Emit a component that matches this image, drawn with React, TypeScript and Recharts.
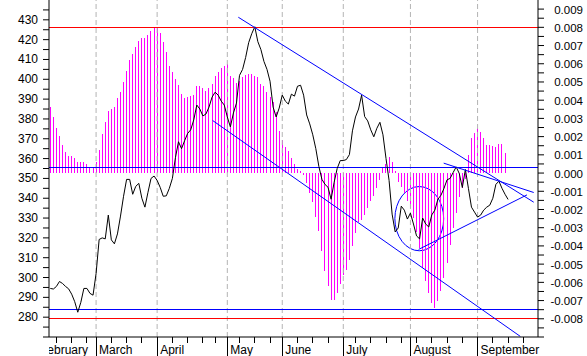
import React from "react";
import {
  ComposedChart,
  Bar,
  Line,
  XAxis,
  YAxis,
  ReferenceLine,
  ReferenceArea,
} from "recharts";

// daily close, one value per trading day (left axis)
const price = [
  294.5, 294.2, 295.5, 298, 297, 295.5, 294.3, 291.6, 287.8, 282.5, 287.5, 294.5, 294.5, 292, 291.1,
  302, 319.2, 320, 319.5, 331.5, 319, 317, 322, 331, 341, 349.5, 349.5, 342, 346, 347.5,
  340, 335.5, 343, 350, 351.2, 349, 345.5, 341, 341.2, 345, 350, 360.5, 368.5, 365, 369,
  372.7, 374.5, 379.5, 387, 385, 381.5, 382.5, 386, 391, 393.5, 392, 389, 387, 381, 376,
  383, 388, 402, 405, 411, 418.5, 423, 426.5, 419, 415, 409, 405, 399, 386, 381,
  385.5, 392, 389, 387.5, 392.5, 391.5, 396.5, 397, 392, 382, 377.5, 372, 365, 356, 349.5,
  347, 345.5, 339.5, 348, 355, 359, 359, 359.5, 362, 374, 381, 385, 392, 381.2, 379,
  374.5, 371, 375.3, 378.3, 372, 360, 349, 332, 323, 325, 336, 334, 329.5, 332.5, 327,
  321, 319.5, 330, 327, 325.5, 331.6, 334, 339.5, 341.5, 345, 349.3, 350, 353, 355.8, 352.5,
  345.4, 354.5, 345, 335.5, 333, 330.5, 331.5, 334, 335.5, 336.5, 340, 347, 348.6, 345, 342, 339.4,
];

// oscillator histogram, in thousandths (right axis)
const osc = [
  3.65, 3.1, 2.5, 2.06, 1.55, 1.13, 0.91, 0.91, 0.85, 0.63, 0.63, 0.58, 0.52, 0.3, 0.3,
  0.63, 1.27, 2.17, 2.83, 3.43, 3.52, 3.61, 4.11, 4.45, 5.02, 5.61, 6.21, 6.52, 6.91, 7.27,
  7.4, 7.43, 7.58, 7.82, 7.95, 7.98, 7.67, 7.21, 6.66, 5.88, 5.57, 5.17, 4.84, 4.34, 4.14,
  4.2, 4.23, 4.29, 4.78, 4.8, 4.69, 4.51, 4.66, 4.9, 5.33, 5.57, 5.75, 5.9, 5.97, 5.31,
  5.2, 4.97, 5.08, 5.29, 5.39, 5.44, 5.42, 5.35, 5.26, 4.89, 4.8, 4.47, 4.2, 3.89, 3.37,
  2.33, 1.82, 1.45, 1.22, 0.82, 0.5, 0.23, 0.1, -0.1, -0.55, -1.1, -1.6, -2.4, -3.2, -4.3,
  -5.4, -6.2, -6.99, -6.99, -6.6, -6.1, -5.6, -5.3, -4.8, -4.0, -3.3, -2.7, -2.6, -2.3, -1.9,
  -1.55, -1.25, -0.8, -0.4, 0.3, 0.5, 0.9, 0.6, 0.1, -0.47, -0.74, -1.1, -1.56, -1.93, -2.47,
  -3.21, -4.12, -5.22, -5.95, -6.59, -7.14, -7.41, -7.05, -6.5, -5.77, -4.94, -3.94, -3.02, -2.2, -1.3,
  -0.8, -0.3, 1.0, 1.9, 2.2, 2.46, 2.25, 1.9, 1.55, 1.56, 1.48, 1.45, 1.59, 1.59, 1.12,
];

const months = ["February", "March", "April", "May", "June", "July", "August", "September"];
const monthStarts = [-0.43, 15, 35, 58, 76, 96, 118, 140];
const weekTicks = [2, 7, 12, 20, 25, 30, 40, 45, 50, 54, 62, 67, 72, 81, 86, 91, 100, 105, 110, 115, 120, 125, 130, 135, 145, 150, 155];

const priceTicks = Array.from({ length: 34 }, (_, k) => 270 + 5 * k);
const oscTicks = Array.from({ length: 37 }, (_, k) => -9 + 0.5 * k);

const blueLevels = [355.6, 283.7];
const redLevels = [8, -8];

const trendLines = [
  [{ x: 61.6, y: 431.3 }, { x: 158.4, y: 338 }],
  [{ x: 128.9, y: 357.7 }, { x: 158.4, y: 342.9 }],
  [{ x: 120.7, y: 314.2 }, { x: 156.2, y: 341.7 }],
  [{ x: 53.2, y: 379.2 }, { x: 154.0, y: 270.3 }],
];
const circle = { x1: 112.9, x2: 128.9, y1: 313.5, y2: 345.9 };

const data = price.map((p, i) => ({ i, price: p, osc: osc[i] }));

const FONT = "'Liberation Sans', Arial, sans-serif";
const AXIS_Y = 337;

function LeftTick(props: any) {
  const v = props.payload.value;
  if (v % 10 !== 0 || v < 280 || v > 430) return <g />;
  return (
    <text x={38} y={props.y + 4} textAnchor="end" fontSize={12} fontFamily={FONT} fill="#000">
      {v}
    </text>
  );
}

function RightTick(props: any) {
  const v = props.payload.value;
  if (!Number.isInteger(v) || v < -8) return <g />;
  return (
    <text x={583} y={props.y + 4.5} textAnchor="end" fontSize={11.5} fontFamily={FONT} fill="#000">
      {(v / 1000).toFixed(3)}
    </text>
  );
}

function BottomTick(props: any) {
  const { x, payload } = props;
  const idx = monthStarts.indexOf(payload.value);
  if (idx < 0) {
    return <line x1={x} x2={x} y1={AXIS_Y} y2={AXIS_Y + 6} stroke="#000" shapeRendering="crispEdges" />;
  }
  if (idx === 0) {
    return (
      <g>
        <defs>
          <clipPath id="febclip">
            <rect x={49} y={AXIS_Y} width={120} height={20} />
          </clipPath>
        </defs>
        <text x={x + 39} y={353.5} textAnchor="end" fontSize={12} fontFamily={FONT} fill="#000" clipPath="url(#febclip)">
          {months[0]}
        </text>
      </g>
    );
  }
  return (
    <g>
      <line x1={x} x2={x} y1={AXIS_Y} y2={356} stroke="#000" shapeRendering="crispEdges" />
      <text x={x + 3} y={353.5} fontSize={12} fontFamily={FONT} fill="#000">
        {months[idx]}
      </text>
    </g>
  );
}

function OscBar(p: any) {
  if (p.height == null || p.width == null) return <g />;
  const y = Math.min(p.y, p.y + p.height);
  const h = Math.abs(p.height);
  return <rect x={p.x} y={y} width={1} height={h} fill="#ff00ff" shapeRendering="crispEdges" />;
}

export default function App() {
  return (
    <div style={{ position: "absolute", left: 0, top: 0, background: "#fff" }}>
      <ComposedChart width={587} height={356} data={data} margin={{ top: 0, right: 0, bottom: 0, left: 0 }}>
        <XAxis
          xAxisId={0}
          type="number"
          dataKey="i"
          domain={[-0.43, 159.8]}
          allowDataOverflow
          ticks={[...monthStarts, ...weekTicks].sort((a, b) => a - b)}
          interval={0}
          height={19}
          tickLine={false}
          axisLine={{ stroke: "#000" }}
          tick={<BottomTick />}
        />
        <YAxis
          yAxisId="left"
          domain={[270, 440]}
          allowDataOverflow
          ticks={priceTicks}
          interval={0}
          width={49}
          tickSize={6}
          tickLine={{ stroke: "#000" }}
          axisLine={{ stroke: "#000" }}
          tick={<LeftTick />}
        />
        <YAxis
          yAxisId="right"
          orientation="right"
          domain={[-9, 9.5]}
          allowDataOverflow
          ticks={oscTicks}
          interval={0}
          width={49}
          tickSize={6}
          tickLine={{ stroke: "#000" }}
          axisLine={{ stroke: "#000" }}
          tick={<RightTick />}
        />
        {monthStarts.slice(1).map((m) => (
          <ReferenceLine key={m} x={m} yAxisId="left" stroke="#b4b4b4" strokeDasharray="5 3" />
        ))}
        <Bar yAxisId="right" dataKey="osc" barSize={1} shape={<OscBar />} isAnimationActive={false} />
        {redLevels.map((v) => (
          <ReferenceLine key={v} y={v} yAxisId="right" stroke="#ff0000" shapeRendering="crispEdges" />
        ))}
        {blueLevels.map((v) => (
          <ReferenceLine key={v} y={v} yAxisId="left" stroke="#0000ff" strokeWidth={1} shapeRendering="crispEdges" />
        ))}
        <Line
          yAxisId="left"
          dataKey="price"
          type="linear"
          stroke="#000"
          strokeWidth={1}
          dot={false}
          isAnimationActive={false}
        />
        {trendLines.map((seg, k) => (
          <ReferenceLine key={k} yAxisId="left" segment={seg} stroke="#0000ff" strokeWidth={1} />
        ))}
        <ReferenceArea
          yAxisId="left"
          x1={circle.x1}
          x2={circle.x2}
          y1={circle.y1}
          y2={circle.y2}
          shape={(p: any) => (
            <ellipse
              cx={p.x + p.width / 2}
              cy={p.y + p.height / 2}
              rx={Math.abs(p.width) / 2}
              ry={Math.abs(p.height) / 2}
              fill="none"
              stroke="#0000ff"
            />
          )}
        />
      </ComposedChart>
    </div>
  );
}
